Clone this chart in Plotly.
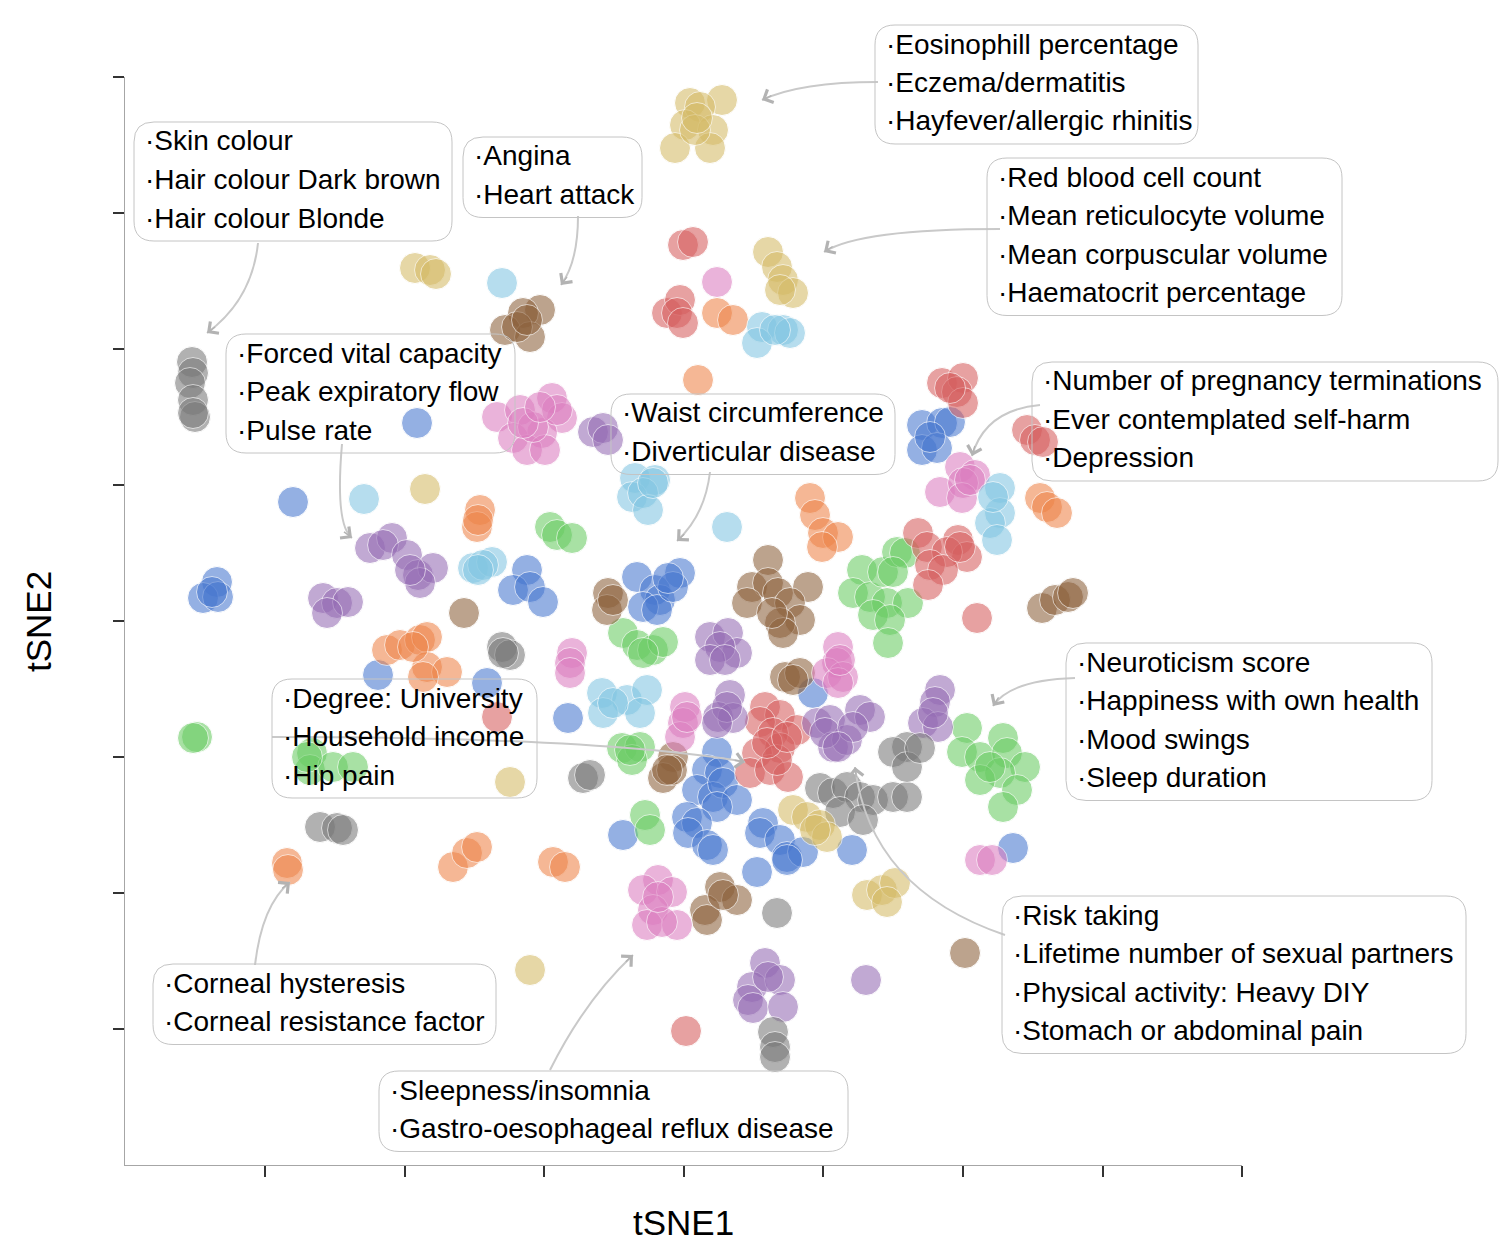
import math
import plotly.graph_objects as go

# tSNE coordinates of each trait, grouped by cluster colour
blue_x = [-26.7, -39.1, -46.7, -48.1, -46.6, -47.2, -15.7, -17.1, -15.4, -14.1,
          -4.7, -2.9, -0.4, -2.4, -4.1, -2.7, -1.1, -1.6,
          23.8, 25.8, 26.6, 23.8, 25.3, 24.6, -30.6, -19.7, -11.6, 12.9,
          3.3, 2.3, 3.6, 1.3, 2.9, 3.9, 5.3, 3.3, 0.3, 1.3, 0.4, 2.3, 2.9,
          -6.1, 7.9, 7.6, 9.6, 10.3, 11.9, 7.3, 10.3, 16.8, 32.9]
blue_y = [19.8, 11.9, 3.9, 2.3, 2.4, 2.9, 5.1, 3.1, 3.4, 1.9,
          4.4, 3.1, 4.8, 2.1, 1.4, 1.1, 3.4, 4.3,
          19.6, 19.8, 19.9, 17.1, 17.3, 18.4, -5.4, -6.2, -9.7, -7.2,
          -13.1, -14.9, -15.2, -16.9, -17.6, -16.2, -17.9, -18.6, -19.6, -20.2, -21.2, -22.4, -22.9,
          -21.4, -20.2, -21.2, -21.9, -23.6, -23.1, -25.1, -23.9, -22.9, -22.7]

orange_x = [3.3, 4.9, 1.4, -20.4, -20.7, -20.6, 12.6, 13.1, 13.9, 15.4, 13.8,
            35.6, 36.3, 37.3, -29.7, -28.4, -26.4, -25.7, -25.7, -23.7, -26.1, -27.1,
            -39.7, -39.6, -23.1, -21.7, -20.7, -13.1, -11.9]
orange_y = [30.8, 30.1, 24.1, 11.1, 9.4, 10.1, 12.3, 10.6, 8.8, 8.4, 7.4,
            12.3, 11.4, 10.8, -2.9, -2.4, -1.9, -1.6, -4.6, -5.1, -5.6, -2.6,
            -24.2, -24.9, -24.6, -23.2, -22.6, -24.1, -24.6]

green_x = [-13.4, -12.7, -11.2,
           17.8, 16.9, 18.6, 19.9, 21.3, 22.1, 20.9, 20.3, 22.4, 18.9, 20.6, 20.4,
           -6.1, -4.7, -3.1, -2.1, -4.1, -48.7, -49.1,
           -37.2, -37.4, -35.1, -33.1, -37.7, -6.2, -4.4, -5.2, -5.4, -3.9, -3.4,
           28.3, 27.8, 29.6, 31.9, 32.3, 34.1, 31.6, 29.6, 33.3, 31.9, 30.6]
green_y = [9.4, 8.6, 8.3,
           5.1, 2.8, 2.4, 4.9, 6.9, 6.8, 4.9, 1.8, 1.8, 0.6, 0.1, -2.2,
           -1.2, -2.4, -2.9, -2.1, -3.2, -11.6, -11.7,
           -13.2, -14.9, -14.6, -14.6, -13.6, -12.7, -12.6, -13.9, -12.9, -19.4, -20.9,
           -10.7, -13.1, -13.6, -11.7, -13.2, -14.6, -15.2, -15.9, -16.9, -18.6, -14.6]

red_x = [-0.1, 0.9, -1.7, -0.4, -0.7, -0.1,
         25.8, 27.9, 27.3, 27.9, 26.6, 34.3, 35.1, 35.9,
         23.4, 24.3, 27.4, 28.3, 26.3, 24.6, 25.9, 24.4, 27.6, 29.3, -18.7,
         8.1, 9.6, 11.3, 7.6, 8.9, 9.6, 7.3, 6.6, 8.6, 10.4, 9.3, 8.3, 10.3, 0.2]
red_y = [37.6, 37.9, 30.8, 32.1, 30.8, 29.8,
         23.8, 24.3, 22.9, 21.8, 23.3, 19.1, 18.1, 17.9,
         8.8, 7.4, 8.1, 6.4, 6.9, 5.6, 5.1, 3.6, 7.4, 0.3, -9.6,
         -8.6, -9.4, -10.9, -10.1, -11.2, -12.7, -13.2, -15.2, -14.9, -15.6, -13.9, -12.2, -11.6, -41.0]

purple_x = [-9.1, -8.1, -7.6,
            -31.4, -29.2, -30.1, -27.7, -26.6, -25.1, -26.4, -27.4,
            -36.1, -34.7, -33.6, -35.7, 2.6, 4.4, 5.3, 3.6, 2.6, 4.1,
            4.6, 3.4, 4.9, 4.3, 3.3,
            13.3, 14.6, 17.6, 18.6, 14.9, 16.3, 14.1, 16.9, 15.4,
            25.6, 25.1, 23.9, 25.4, 24.9, 18.2,
            8.1, 6.8, 9.6, 6.4, 6.9, 9.9, 8.4]
purple_y = [18.9, 19.3, 18.1,
            7.3, 8.3, 7.6, 6.6, 4.6, 5.3, 3.8, 5.1,
            2.3, 1.8, 1.9, 0.8, -1.6, -1.2, -3.2, -2.6, -3.9, -3.9,
            -7.4, -9.6, -9.7, -8.6, -10.2,
            -10.2, -9.9, -8.9, -9.6, -12.6, -11.9, -11.2, -10.6, -12.6,
            -6.9, -8.1, -10.2, -10.6, -9.2, -35.9,
            -34.2, -36.6, -35.9, -37.9, -38.7, -38.6, -35.6]

brown_x = [-14.4, -16.1, -17.9, -15.4, -16.7, -15.7, -22.0, -7.6, -7.7, -7.1,
           8.4, 6.8, 8.4, 6.3, 9.4, 12.4, 10.6, 11.6, 9.6, 9.9, 8.8,
           10.1, 11.6, 10.9, -1.1, -2.1, -1.2, -1.7,
           3.6, 5.3, 2.1, 2.3, 3.9, 28.1, 35.8, 37.1, 38.4, 38.9]
brown_y = [31.1, 30.8, 29.1, 28.4, 29.4, 30.1, 0.8, 2.8, 1.1, 2.1,
           6.1, 3.4, 3.8, 1.8, 2.8, 3.4, 1.8, 0.1, -0.2, -1.2, 0.8,
           -5.6, -5.2, -5.9, -13.6, -15.7, -14.9, -14.9,
           -26.6, -27.9, -28.9, -29.9, -27.4, -33.2, 1.3, 2.1, 2.4, 2.8]

pink_x = [3.3, -18.7, -16.4, -13.2, -12.2, -14.2, -17.1, -15.7, -13.9, -15.1, -16.1, -12.7, -14.4,
          27.6, 29.1, 25.6, 27.9, 27.8, 28.6, -11.2, -11.4, -11.4,
          15.4, 15.3, 14.3, 15.9, 15.4, 15.6, 0.1, -0.1, -0.4, 0.3,
          -2.6, -4.1, -1.2, -3.1, -3.7, -0.7, -2.2, -2.6, 29.6, 30.8]
pink_y = [33.9, 20.4, 21.1, 22.3, 20.3, 18.8, 18.3, 17.1, 17.1, 19.4, 19.8, 21.1, 21.4,
          15.4, 14.6, 12.9, 13.8, 12.3, 14.1, -3.2, -4.2, -5.2,
          -2.6, -4.2, -5.2, -5.6, -6.2, -3.9, -8.6, -10.2, -11.6, -9.6,
          -25.9, -26.9, -27.1, -28.9, -30.4, -30.4, -30.1, -27.6, -23.9, -23.9]

gray_x = [-49.2, -49.1, -49.4, -49.1, -48.9, -49.1, -18.2, -17.4, -18.1, -10.1, -9.4,
          -36.4, -34.7, -34.1,
          13.6, 14.9, 16.3, 17.6, 18.9, 20.9, 22.3, 15.6, 17.9, 22.3, 20.9, 22.3, 23.6,
          9.3, 8.9, 9.1, 9.1]
gray_y = [25.9, 24.8, 23.8, 22.1, 20.4, 20.8, -2.6, -3.4, -3.2, -15.7, -15.4,
          -20.6, -20.7, -20.9,
          -16.7, -17.2, -16.6, -17.6, -17.9, -17.6, -17.6, -19.1, -19.9, -12.6, -13.1, -14.6, -12.7,
          -29.2, -41.1, -42.6, -43.6]

yellow_x = [0.6, 3.8, 1.6, 0.1, 2.9, -0.9, 2.6, 1.1, 1.3, -26.9, -25.4, -24.8,
            8.4, 9.3, 9.9, 10.9, 9.6, -25.9, -17.4, -15.4,
            10.9, 12.3, 13.6, 14.3, 13.1, 18.3, 19.8, 21.1, 20.3]
yellow_y = [51.8, 52.1, 51.4, 49.6, 49.1, 47.3, 47.3, 49.1, 50.3, 35.3, 35.1, 34.7,
            36.9, 35.4, 34.1, 32.8, 33.1, 13.2, -16.1, -34.9,
            -18.9, -19.6, -20.4, -21.6, -20.9, -27.4, -26.9, -26.2, -28.1]

cyan_x = [-18.2, 7.8, 9.9, 7.3, 10.6, 9.1, -4.9, -2.9, -5.2, -4.1, -3.6, -3.1, 4.3, -32.0,
          -21.1, -19.2, -20.1, -20.6, 31.6, 31.6, 30.6, 31.3, 30.9,
          -8.2, -5.7, -3.7, -8.1, -4.4, -7.1]
cyan_y = [33.8, 29.4, 29.1, 27.8, 28.8, 29.1, 14.3, 14.1, 12.4, 12.8, 11.1, 13.8, 9.4, 12.2,
          5.3, 5.9, 5.6, 5.1, 13.3, 10.8, 9.8, 8.1, 12.4,
          -7.2, -7.9, -6.9, -9.2, -9.2, -8.2]

groups = [
    (blue_x, blue_y, "#4878d0"),
    (orange_x, orange_y, "#ee854a"),
    (green_x, green_y, "#6acc64"),
    (red_x, red_y, "#d65f5f"),
    (purple_x, purple_y, "#956cb4"),
    (brown_x, brown_y, "#8c613c"),
    (pink_x, pink_y, "#dc7ec0"),
    (gray_x, gray_y, "#797979"),
    (yellow_x, yellow_y, "#d5bb67"),
    (cyan_x, cyan_y, "#82c6e2"),
]

# annotation texts
labels = [
    ["Eosinophill percentage", "Eczema/dermatitis", "Hayfever/allergic rhinitis"],
    ["Skin colour", "Hair colour Dark brown", "Hair colour Blonde"],
    ["Angina", "Heart attack"],
    ["Red blood cell count", "Mean reticulocyte volume", "Mean corpuscular volume",
     "Haematocrit percentage"],
    ["Forced vital capacity", "Peak expiratory flow", "Pulse rate"],
    ["Waist circumference", "Diverticular disease"],
    ["Number of pregnancy terminations", "Ever contemplated self-harm", "Depression"],
    ["Neuroticism score", "Happiness with own health", "Mood swings", "Sleep duration"],
    ["Degree: University", "Household income", "Hip pain"],
    ["Risk taking", "Lifetime number of sexual partners", "Physical activity: Heavy DIY",
     "Stomach or abdominal pain"],
    ["Corneal hysteresis", "Corneal resistance factor"],
    ["Sleepness/insomnia", "Gastro-oesophageal reflux disease"],
]
# box left, box right, first text line (tSNE units)
box_pos = [
    (19.1, 51.4, 57.7), (-55.0, -23.2, 48.0), (-22.1, -4.2, 46.5), (30.3, 65.8, 44.4),
    (-45.8, -16.9, 26.8), (-7.3, 21.1, 20.8), (34.8, 81.4, 24.0), (38.2, 74.8, -4.1),
    (-41.2, -14.7, -7.7), (31.8, 78.2, -29.4), (-53.1, -18.8, -36.2), (-30.5, 16.4, -46.9),
]
# curved pointers: start, control, end
arrows = [
    ((19.4, 53.9), (11.6, 53.9), (7.8, 52.1)),
    ((-42.6, 37.8), (-43.2, 32.1), (-47.7, 28.8)),
    ((-10.6, 40.5), (-10.6, 35.9), (-12.3, 33.6)),
    ((31.6, 39.2), (17.6, 39.2), (14.0, 36.9)),
    ((-34.2, 17.7), (-34.9, 9.6), (-33.2, 8.3)),
    ((2.6, 14.9), (2.1, 10.6), (-0.7, 8.0)),
    ((35.6, 21.6), (30.1, 21.1), (28.8, 16.5)),
    ((39.1, -5.7), (32.6, -5.9), (30.9, -8.5)),
    ((-41.2, -11.6), (-8.4, -11.6), (6.1, -14.1)),
    ((32.1, -31.4), (18.6, -26.8), (17.1, -14.6)),
    ((-42.9, -34.4), (-42.2, -28.4), (-39.4, -26.1)),
    ((-13.4, -44.9), (-9.9, -37.9), (-5.1, -33.4)),
]

X_RANGE = [-55.9, 55.8]
Y_RANGE = [-54.4, 54.4]
FONT = "Liberation Sans, Arial, sans-serif"


def px_(v):
    return (v - X_RANGE[0]) / (X_RANGE[1] - X_RANGE[0])


def py_(v):
    return (v - Y_RANGE[0]) / (Y_RANGE[1] - Y_RANGE[0])


def rounded_box(x0, x1, y0, y1, r=2.0):
    pts = [
        ("M", x0 + r, y1), ("L", x1 - r, y1), ("Q", x1, y1, x1, y1 - r),
        ("L", x1, y0 + r), ("Q", x1, y0, x1 - r, y0), ("L", x0 + r, y0),
        ("Q", x0, y0, x0, y0 + r), ("L", x0, y1 - r), ("Q", x0, y1, x0 + r, y1),
    ]
    path = ""
    for p in pts:
        coords = []
        for i in range(1, len(p), 2):
            coords.append("%.5f,%.5f" % (px_(p[i]), py_(p[i + 1])))
        path += p[0] + " " + " ".join(coords) + " "
    return path + "Z"


fig = go.Figure()

for xs, ys, col in groups:
    fig.add_trace(go.Scatter(
        x=xs, y=ys, mode="markers",
        marker=dict(size=31, color=col, opacity=0.58,
                    line=dict(color="white", width=1)),
        hoverinfo="skip", showlegend=False))

shapes = []
annotations = []

for (p0, c, p2) in arrows:
    shapes.append(dict(
        type="path", xref="x", yref="y", layer="above",
        path="M %f,%f Q %f,%f %f,%f" % (p0[0], p0[1], c[0], c[1], p2[0], p2[1]),
        line=dict(color="#c9c9c9", width=2)))
    dx, dy = p2[0] - c[0], p2[1] - c[1]
    d = math.hypot(dx, dy)
    annotations.append(dict(
        x=p2[0], y=p2[1], ax=p2[0] - dx / d * 1.2, ay=p2[1] - dy / d * 1.2,
        xref="x", yref="y", axref="x", ayref="y", text="", showarrow=True,
        arrowhead=4, arrowsize=2, arrowwidth=1.4, arrowcolor="#b3b3b3"))

LINE = 3.85
for lines, (x0, x1, ytop) in zip(labels, box_pos):
    top = ytop + 1.9
    bottom = ytop - (len(lines) - 1) * LINE - 2.3
    shapes.append(dict(
        type="path", xref="paper", yref="paper", layer="above",
        path=rounded_box(x0, x1, bottom, top),
        line=dict(color="#c4c4c4", width=1), fillcolor="rgba(255,255,255,0)"))
    for i, t in enumerate(lines):
        annotations.append(dict(
            x=px_(x0 + 0.9), y=py_(ytop - i * LINE), xref="paper", yref="paper",
            xanchor="left", yanchor="middle", text="\u00b7" + t, showarrow=False,
            font=dict(family=FONT, size=28, color="black")))

annotations.append(dict(
    x=0.5, y=-0.0524, xref="paper", yref="paper", text="tSNE1", showarrow=False,
    xanchor="center", yanchor="middle", font=dict(family=FONT, size=35, color="black")))
annotations.append(dict(
    x=-0.0779, y=0.5, xref="paper", yref="paper", text="tSNE2", showarrow=False,
    textangle=-90, xanchor="center", yanchor="middle",
    font=dict(family=FONT, size=35, color="black")))

# page body adds an 8px margin, so the figure is shrunk to keep the plot area in place
fig.update_layout(
    width=1495, height=1237,
    margin=dict(l=117, r=261, t=69, b=80),
    plot_bgcolor="white", paper_bgcolor="white",
    shapes=shapes, annotations=annotations,
    xaxis=dict(range=X_RANGE, showgrid=False, zeroline=False, showline=True,
               linecolor="#a6a6a6", linewidth=1, ticks="outside", ticklen=11,
               tickwidth=1.5, tickcolor="#333333", showticklabels=False,
               tickvals=[-41.9, -27.9, -14.0, 0, 13.9, 27.9, 41.9, 55.8]),
    yaxis=dict(range=Y_RANGE, showgrid=False, zeroline=False, showline=True,
               linecolor="#a6a6a6", linewidth=1, ticks="outside", ticklen=11,
               tickwidth=1.5, tickcolor="#333333", showticklabels=False,
               tickvals=[54.4, 40.8, 27.2, 13.6, 0, -13.6, -27.2, -40.8]),
)

fig.write_html("out.html")
